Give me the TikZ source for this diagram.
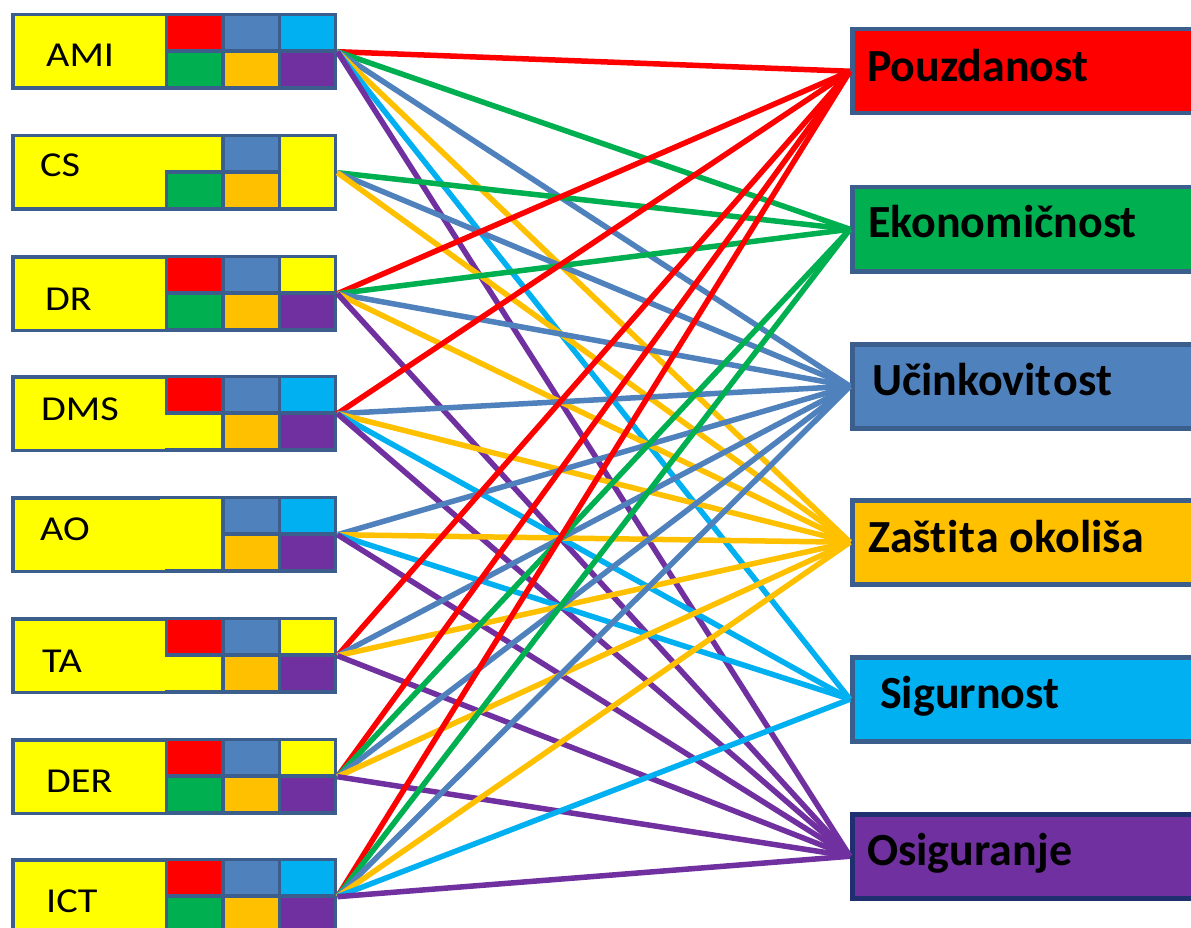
\documentclass[tikz,border=0pt]{standalone}
\usepackage{fontspec}
\setmainfont{Carlito}[Ligatures=NoCommon, Contextuals=NoAlternate]
\definecolor{cRed}{HTML}{FF0000}
\definecolor{cGreen}{HTML}{00B050}
\definecolor{cBlue}{HTML}{4F81BD}
\definecolor{cOrange}{HTML}{FFC000}
\definecolor{cCyan}{HTML}{00B0F0}
\definecolor{cPurple}{HTML}{7030A0}
\definecolor{cYellow}{HTML}{FFFF00}
\definecolor{frame}{HTML}{3B5E8C}
\definecolor{navy}{HTML}{1F2F6F}
% cell: #1 box top, #2 column, #3 row, #4 colour
\newcommand{\mycell}[4]{\fill[#4] ({168+56.5*#2},{#1+3+37*#3}) rectangle ++(53,33);}
% yellow cell merged with the left area
\newcommand{\mymerge}[3]{\fill[cYellow] (160,{#1+3+37*#3}) rectangle ++({61+56.5*#2},33);}
\newcommand{\tisep}{\kern1.5pt}
\begin{document}
\begin{tikzpicture}[x=1pt,y=-1pt,
  lbox/.style={rectangle, fill=frame, draw=none, minimum width=326pt, minimum height=77pt, inner sep=0pt, anchor=north west},
  rbox/.style={rectangle, draw=frame, line width=4.5pt, minimum width=400pt, minimum height=84pt, inner sep=0pt, anchor=north west},
  llab/.style={anchor=base west, inner sep=0pt, font=\fontsize{35}{40}\selectfont, xscale=1.15},
  rlab/.style={anchor=base west, inner sep=0pt, font=\fontsize{46}{52}\selectfont\bfseries},
  conn/.style={line width=5.5pt}]
\useasboundingbox (0,0) rectangle (1191,928);
\clip (0,0) rectangle (1191,928);
\fill[white] (0,0) rectangle (1191,928);

% ---------------- left boxes ----------------
\node[lbox] (ami) at (11,13) {};
\node[lbox] (cs)  at (11,134) {};
\node[lbox] (dr)  at (11,255) {};
\node[lbox] (dms) at (11,375) {};
\node[lbox] (ao)  at (11,496) {};
\node[lbox] (ta)  at (11,617) {};
\node[lbox] (der) at (11,738) {};
\node[lbox] (ict) at (11,858) {};

\foreach \t in {13,134,255,375,496,617,738,858}{
  \fill[cYellow] (15,\t+3.5) rectangle (165,\t+73.5);
}
% AMI
\mycell{13}{0}{0}{cRed}\mycell{13}{1}{0}{cBlue}\mycell{13}{2}{0}{cCyan}
\mycell{13}{0}{1}{cGreen}\mycell{13}{1}{1}{cOrange}\mycell{13}{2}{1}{cPurple}
% CS
\mymerge{134}{0}{0}\mycell{134}{1}{0}{cBlue}
\mycell{134}{0}{1}{cGreen}\mycell{134}{1}{1}{cOrange}
\fill[cYellow] (281,137) rectangle (334,207);
% DR
\mycell{255}{0}{0}{cRed}\mycell{255}{1}{0}{cBlue}\mycell{255}{2}{0}{cYellow}
\mycell{255}{0}{1}{cGreen}\mycell{255}{1}{1}{cOrange}\mycell{255}{2}{1}{cPurple}
% DMS
\mycell{375}{0}{0}{cRed}\mycell{375}{1}{0}{cBlue}\mycell{375}{2}{0}{cCyan}
\mymerge{375}{0}{1}\mycell{375}{1}{1}{cOrange}\mycell{375}{2}{1}{cPurple}
% AO
\fill[cYellow] (160,499) rectangle (221,569);
\mycell{496}{1}{0}{cBlue}\mycell{496}{2}{0}{cCyan}
\mycell{496}{1}{1}{cOrange}\mycell{496}{2}{1}{cPurple}
% TA
\mycell{617}{0}{0}{cRed}\mycell{617}{1}{0}{cBlue}\mycell{617}{2}{0}{cYellow}
\mymerge{617}{0}{1}\mycell{617}{1}{1}{cOrange}\mycell{617}{2}{1}{cPurple}
% DER
\mycell{738}{0}{0}{cRed}\mycell{738}{1}{0}{cBlue}\mycell{738}{2}{0}{cYellow}
\mycell{738}{0}{1}{cGreen}\mycell{738}{1}{1}{cOrange}\mycell{738}{2}{1}{cPurple}
% ICT
\mycell{858}{0}{0}{cRed}\mycell{858}{1}{0}{cBlue}\mycell{858}{2}{0}{cCyan}
\mycell{858}{0}{1}{cGreen}\mycell{858}{1}{1}{cOrange}\mycell{858}{2}{1}{cPurple}

\node[llab] at (46,67)  {AMI};
\node[llab] at (40,177) {CS};
\node[llab] at (45,310) {DR};
\node[llab] at (41,420) {DMS};
\node[llab] at (40,540) {AO};
\node[llab] at (42,672) {TA};
\node[llab] at (46,792) {DER};
\node[llab] at (46,912) {ICT};

% ---------------- right boxes ----------------
\node[rbox, fill=cRed]    (pou) at (850,27)  {};
\node[rbox, fill=cGreen]  (eko) at (850,185) {};
\node[rbox, fill=cBlue]   (uci) at (850,342) {};
\node[rbox, fill=cOrange] (zas) at (850,498) {};
\node[rbox, fill=cCyan]   (sig) at (850,655) {};
\node[rbox, fill=cPurple, draw=navy] (osi) at (850,812) {};

% ---------------- connectors ----------------
\foreach \s/\t/\c in {
  ami/pou/cRed, ami/eko/cGreen, ami/uci/cBlue, ami/zas/cOrange, ami/sig/cCyan, ami/osi/cPurple,
  cs/eko/cGreen, cs/uci/cBlue, cs/zas/cOrange,
  dr/pou/cRed, dr/eko/cGreen, dr/uci/cBlue, dr/zas/cOrange, dr/osi/cPurple,
  dms/pou/cRed, dms/uci/cBlue, dms/zas/cOrange, dms/sig/cCyan, dms/osi/cPurple,
  ao/uci/cBlue, ao/zas/cOrange, ao/sig/cCyan, ao/osi/cPurple,
  ta/pou/cRed, ta/uci/cBlue, ta/zas/cOrange, ta/osi/cPurple,
  der/pou/cRed, der/eko/cGreen, der/uci/cBlue, der/zas/cOrange, der/osi/cPurple,
  ict/pou/cRed, ict/eko/cGreen, ict/uci/cBlue, ict/zas/cOrange, ict/sig/cCyan, ict/osi/cPurple}
  {\draw[conn, \c] (\s.east) -- (\t.west);}

\node[rlab] at (867,82)  {Pouzdanost};
\node[rlab] at (868,237) {Ekonomičnost};
\node[rlab] at (872,395) {Učinkovit\tisep ost};
\node[rlab] at (868,552) {Zašt\tisep it\tisep a okoliša};
\node[rlab] at (880,708) {Sigurnost};
\node[rlab] at (867,865) {Osiguranje};
\end{tikzpicture}
\end{document}
